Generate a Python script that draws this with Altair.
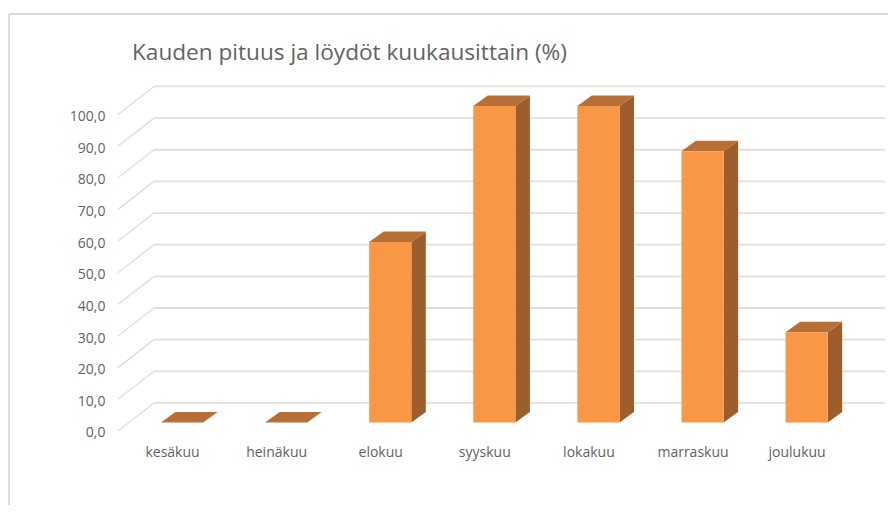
import altair as alt
import pandas as pd

months = ["kesäkuu", "heinäkuu", "elokuu", "syyskuu", "lokakuu", "marraskuu", "joulukuu"]
values = [0.0, 0.0, 57.0, 100.0, 100.0, 85.7, 28.5]
ticks = [0, 10, 20, 30, 40, 50, 60, 70, 80, 90, 100]
title = "Kauden pituus ja löydöt kuukausittain (%)"

# 3-D construction, in data units (x: month slots, y: percent)
X_MIN, X_MAX = -1.566, 6.878
Y_MIN, Y_MAX = -23.4, 131.75
WALL_FRONT, WALL_BACK, WALL_END = -0.519, -0.173, 6.849
WALL_DY = 8.85
BAR_L, BAR_W = -0.106, 0.405
DEPTH_X, DEPTH_Y = 0.139, 3.3
BAR_BASE = 2.7

GRID = "#dfdfdf"
TEXT = "#636363"
FONT = "Open Sans"

xs = alt.Scale(domain=[X_MIN, X_MAX], nice=False, zero=False)
ys = alt.Scale(domain=[Y_MIN, Y_MAX], nice=False, zero=False)
label_expr = "[" + ",".join(f"'{m}'" for m in months) + "][datum.value]"
x_axis = alt.Axis(values=list(range(len(months))), labelExpr=label_expr, title=None, domain=False,
                  ticks=False, grid=False, offset=-60, labelPadding=0, labelFont=FONT,
                  labelFontSize=14, labelColor=TEXT, labelAlign="center")
y_axis = alt.Axis(values=ticks, labelExpr="replace(format(datum.value,'.1f'),'.',',')", title=None,
                  domain=False, ticks=False, grid=False, offset=-96, labelPadding=0, labelFont=FONT,
                  labelFontSize=14, labelColor=TEXT, labelOffset=2)
X = alt.X("x:Q", scale=xs, axis=x_axis)
Y = alt.Y("y:Q", scale=ys, axis=y_axis)
X2 = alt.X2("x2:Q")
Y2 = alt.Y2("y2:Q")

front, side, top = [], [], []
for i, (m, v) in enumerate(zip(months, values)):
    l = i + BAR_L
    r = l + BAR_W
    b = BAR_BASE
    t = BAR_BASE + v
    front.append({"month": m, "x": l, "x2": r, "y": b, "y2": t})
    side.append({"month": m, "x": r, "y": b, "y2": t})
    side.append({"month": m, "x": r + DEPTH_X, "y": b + DEPTH_Y, "y2": t + DEPTH_Y})
    top.append({"month": m, "x": l, "x2": r, "y": t})
    top.append({"month": m, "x": l + DEPTH_X, "x2": r + DEPTH_X, "y": t + DEPTH_Y})

back = pd.DataFrame([{"v": v, "x": WALL_BACK, "x2": WALL_END, "y": v + WALL_DY} for v in ticks])
slant = pd.DataFrame(
    [{"v": v, "x": WALL_FRONT, "y": v} for v in ticks] + [{"v": v, "x": WALL_BACK, "y": v + WALL_DY} for v in ticks]
)

frame_left = alt.Chart(pd.DataFrame({"x": [X_MIN]})).mark_rule(color="#d9d9d9", strokeWidth=1.8).encode(x=X)
frame_top = alt.Chart(pd.DataFrame({"y": [Y_MAX]})).mark_rule(color="#d9d9d9", strokeWidth=1.8).encode(y=Y)
grid_back = alt.Chart(back).mark_rule(color=GRID, strokeWidth=1.8).encode(x=X, x2=X2, y=Y)
grid_slant = alt.Chart(slant).mark_line(color=GRID, strokeWidth=1.4).encode(x=X, y=Y, detail="v:N")
side_faces = alt.Chart(pd.DataFrame(side)).mark_area(color="#9c5f2c", interpolate="linear").encode(
    x=X, y=Y, y2=Y2, detail="month:N")
top_faces = alt.Chart(pd.DataFrame(top)).mark_area(color="#b86f35", orient="horizontal").encode(
    x=X, x2=X2, y=Y, detail="month:N")
front_faces = alt.Chart(pd.DataFrame(front)).mark_rect(color="#fa9746").encode(x=X, x2=X2, y=Y, y2=Y2)

chart = (
    alt.layer(frame_left, frame_top, grid_back, grid_slant, side_faces, top_faces, front_faces)
    .properties(
        width=879,
        height=491,
        title=alt.TitleParams(title, anchor="start", frame="group", dx=123, dy=55, font=FONT, fontSize=22.6,
                              fontWeight="normal", color=TEXT),
        padding={"left": 1, "top": 6, "right": 0, "bottom": 0},
        autosize=alt.AutoSizeParams(type="none"),
    )
    .configure_view(stroke=None)
)

chart.save("out.html", embed_options={"renderer": "svg", "actions": False})
